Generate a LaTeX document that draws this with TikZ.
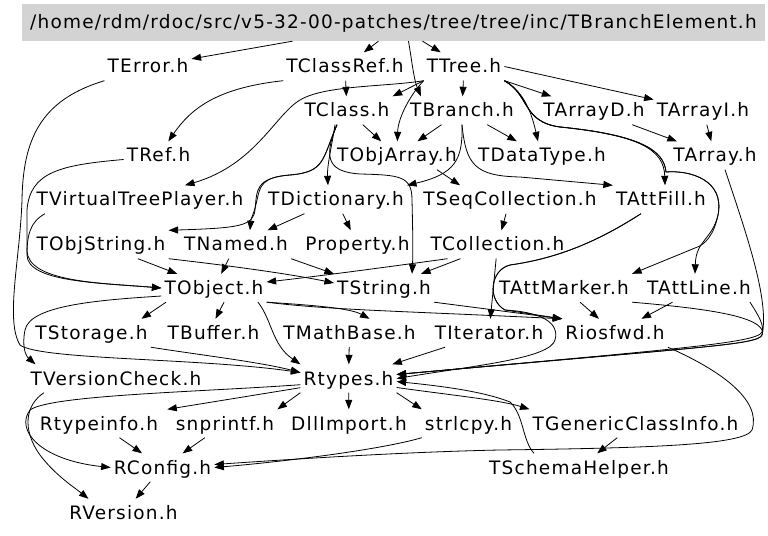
\documentclass[tikz,border=0pt]{standalone}
\usepackage{fontspec}
\setmainfont{DejaVu Sans}[LetterSpace=6.5]
\usepackage{xcolor}
\definecolor{rootgray}{HTML}{D3D3D3}
\usetikzlibrary{arrows.meta}

\begin{document}
\begin{tikzpicture}[
  x=1bp, y=-1bp,
  font=\fontsize{18.5bp}{20bp}\selectfont,
  incfile/.style={inner xsep=3bp, inner ysep=0pt, minimum height=28bp,
                  text height=15bp, text depth=2bp},
  topfile/.style={fill=rootgray, inner sep=0pt, minimum width=743bp, minimum height=37bp,
                  text height=15bp, text depth=2bp},
  inc/.style={-{Triangle[length=9.5bp,width=7bp]}, line width=0.8bp}
]
  \useasboundingbox (0,0) rectangle (768,536);

  \node[topfile] (root) at (393.5,22.5) {/home/rdm/rdoc/src/v5-32-00-patches/tree/tree/inc/TBranchElement.h};

  \node[incfile] (terror)     at (148,66.5)  {TError.h};
  \node[incfile] (tclassref)  at (345,66.5)  {TClassRef.h};
  \node[incfile] (ttree)      at (464,66.5)  {TTree.h};
  \node[incfile] (tclass)     at (347,110.5) {TClass.h};
  \node[incfile] (tbranch)    at (462,110.5) {TBranch.h};
  \node[incfile] (tarrayd)    at (594,110.5) {TArrayD.h};
  \node[incfile] (tarrayi)    at (703,110.5) {TArrayI.h};
  \node[incfile] (tref)       at (158.5,155.5) {TRef.h};
  \node[incfile] (tobjarray)  at (397,155.5) {TObjArray.h};
  \node[incfile] (tdatatype)  at (542,155.5) {TDataType.h};
  \node[incfile] (tarray)     at (715,155.5) {TArray.h};
  \node[incfile] (tvirtualtreeplayer) at (140,199.5) {TVirtualTreePlayer.h};
  \node[incfile] (tdictionary)    at (336,199.5) {TDictionary.h};
  \node[incfile] (tseqcollection) at (510,199.5) {TSeqCollection.h};
  \node[incfile] (tattfill)       at (661,199.5) {TAttFill.h};
  \node[incfile] (tobjstring)  at (101,244.5) {TObjString.h};
  \node[incfile] (tnamed)      at (236,244.5) {TNamed.h};
  \node[incfile] (property)    at (357.5,244.5) {Property.h};
  \node[incfile] (tcollection) at (497.5,244.5) {TCollection.h};
  \node[incfile] (tobject)     at (214,288) {TObject.h};
  \node[incfile] (tstring)     at (384,288) {TString.h};
  \node[incfile] (tattmarker)  at (564,288) {TAttMarker.h};
  \node[incfile] (tattline)    at (699,288) {TAttLine.h};
  \node[incfile] (tstorage)    at (91.5,333)  {TStorage.h};
  \node[incfile] (tbuffer)     at (213.5,333) {TBuffer.h};
  \node[incfile] (tmathbase)   at (349.5,333) {TMathBase.h};
  \node[incfile] (titerator)   at (489,333)   {TIterator.h};
  \node[incfile] (riosfwd)     at (615,333)   {Riosfwd.h};
  \node[incfile] (tversioncheck) at (116,378.5) {TVersionCheck.h};
  \node[incfile] (rtypes)        at (348.5,378.5) {Rtypes.h};
  \node[incfile] (rtypeinfo)   at (99,423.5)  {Rtypeinfo.h};
  \node[incfile] (snprintf)    at (225,423.5) {snprintf.h};
  \node[incfile] (dllimport)   at (349,423.5) {DllImport.h};
  \node[incfile] (strlcpy)     at (468.5,423.5) {strlcpy.h};
  \node[incfile] (tgenericclassinfo) at (635.5,423.5) {TGenericClassInfo.h};
  \node[incfile] (rconfig)       at (162.5,467.5) {RConfig.h};
  \node[incfile] (tschemahelper) at (579,467.5)   {TSchemaHelper.h};
  \node[incfile] (rversion)      at (123.5,513)   {RVersion.h};

  \draw[inc] ([xshift=-101bp]root.south) -- (terror);
  \draw[inc] ([xshift=-15bp]root.south) -- (tclassref);
  \draw[inc] ([xshift=29bp]root.south) -- (ttree);
  \draw[inc] ([xshift=15bp]root.south) .. controls (412,62) and (414,80) .. ([xshift=14bp]tbranch.north west);

  \draw[inc] (tclassref) -- (tclass);
  \draw[inc] (tclassref.south west) .. controls (215,88) and (190,110) .. (tref);
  \draw[inc] (ttree) -- (tbranch);
  \draw[inc] (ttree.south east) -- (tarrayd);
  \draw[inc] (ttree.east) -- (tarrayi);
  \draw[inc] (ttree.south east) .. controls (525,92) and (532,115) .. ([xshift=-4bp]tdatatype.north);
  \draw[inc] (ttree.south east) .. controls (530,95) and (522,122) .. (560,127)
             .. controls (640,135) and (664,150) .. ([xshift=4bp]tattfill.north);
  \draw[inc] (ttree.south east) .. controls (530,95) and (522,122) .. (560,127)
             .. controls (640,135) and (664,150) .. (666,172)
             .. controls (690,170) and (725,180) .. (718,215)
             .. controls (712,240) and (696,240) .. ([xshift=-4bp]tattline.north);
  \draw[inc] (ttree.south east) .. controls (530,95) and (522,122) .. (560,127)
             .. controls (640,135) and (664,150) .. (666,172)
             .. controls (690,170) and (725,180) .. (718,215)
             .. controls (714,235) and (705,245) .. (695,248) -- (tattmarker.north east);
  \draw[inc] (ttree.south west) -- (tclass.north east);
  \draw[inc] (ttree.south west) .. controls (410,95) and (398,118) .. (tobjarray);
  \draw[inc] (ttree.south west) .. controls (385,87) and (325,85) .. (300,100)
             .. controls (275,115) and (255,165) .. ([xshift=45bp]tvirtualtreeplayer.north);

  \draw[inc] (tclass) -- (tobjarray);
  \draw[inc] (tbranch) -- (tobjarray);
  \draw[inc] (tbranch) -- (tdatatype);
  \draw[inc] (tarrayd) -- (tarray);
  \draw[inc] (tarrayi) -- (tarray);
  \draw[inc] ([xshift=-12bp]tclass.south) .. controls (332,145) and (327,165) .. ([xshift=-8bp]tdictionary.north);
  \draw[inc] ([xshift=-10bp]tclass.south) .. controls (322,160) and (325,172) .. (290,175)
             .. controls (255,178) and (257,190) .. (255,210)
             .. controls (253,226) and (240,228) .. (tobjstring.north east);
  \draw[inc] ([xshift=-10bp]tclass.south) .. controls (322,160) and (325,172) .. (290,175)
             .. controls (262,177) and (260,186) .. (257,200)
             .. controls (254,214) and (251,218) .. ([xshift=14bp]tnamed.north);
  \draw[inc] ([xshift=-10bp]tclass.south) .. controls (322,160) and (330,172) .. (360,174)
             .. controls (400,175) and (412,176) .. (412,200)
             .. controls (413,240) and (413,255) .. ([xshift=28bp]tstring.north);
  \draw[inc] (tbranch.south) .. controls (463,160) and (455,174) .. (tdictionary.north east);
  \draw[inc] (tbranch.south) .. controls (466,165) and (475,176) .. (520,177) -- (tattfill.north west);
  \draw[inc] ([xshift=40bp]tobjarray.south) -- ([xshift=-50bp]tseqcollection.north);

  \draw[inc] (tdictionary) -- (tnamed);
  \draw[inc] (tdictionary) -- (property);
  \draw[inc] (tseqcollection) -- (tcollection);
  \draw[inc] (tobjstring) -- (tobject);
  \draw[inc] (tobjstring.south east) .. controls (250,268) and (300,276) .. ([yshift=5bp]tstring.west);
  \draw[inc] (tnamed) -- (tobject);
  \draw[inc] (tnamed.south east) -- (tstring.north west);
  \draw[inc] ([xshift=-50bp]tcollection.south) .. controls (380,268) and (320,276) .. ([yshift=6bp]tobject.east);
  \draw[inc] (tcollection) -- (tstring);
  \draw[inc] (tcollection) -- (titerator);
  \draw[inc] ([xshift=-20bp]tattfill.south) .. controls (600,240) and (560,258) .. (510,265)
             .. controls (490,270) and (487,300) .. (505,310) -- (riosfwd.north west);
  \draw[inc] ([xshift=-20bp]tattfill.south) .. controls (600,240) and (560,258) .. (510,265)
             .. controls (490,270) and (487,300) .. (505,310)
             .. controls (540,312) and (560,322) .. (555,340)
             .. controls (550,358) and (480,365) .. (rtypes.east);
  \draw[inc] (tref.west) ++(0,4) .. controls (60,165) and (30,172) .. (27,210) -- (27,250)
             .. controls (27,282) and (100,283) .. (tobject.west);
  \draw[inc] ([xshift=-95bp]tvirtualtreeplayer.south) .. controls (30,222) and (27,235) .. (27,255)
             .. controls (27,282) and (100,283) .. (tobject.west);

  \draw[inc] (tstring.south east) -- (riosfwd.north west);
  \draw[inc] (tobject.south east) .. controls (330,310) and (400,311) .. (riosfwd.north west);
  \draw[inc] (tobject.south east) .. controls (310,305) and (350,308) .. ([xshift=20bp]tmathbase.north);
  \draw[inc] ([xshift=-48bp]tobject.south) -- ([xshift=50bp]tstorage.north);
  \draw[inc] ([xshift=10bp]tobject.south) -- ([xshift=2bp]tbuffer.north);
  \draw[inc] ([xshift=44bp]tobject.south) .. controls (272,320) and (272,345) .. (rtypes.north west);
  \draw[inc] ([yshift=-8bp]tobject.west) .. controls (100,300) and (30,305) .. (25,330)
             .. controls (22,345) and (25,355) .. ([xshift=8bp]tversioncheck.north west);
  \draw[inc] (tstorage.south east) .. controls (200,355) and (260,362) .. ([yshift=6bp]rtypes.west);
  \draw[inc] (terror.south west) .. controls (40,100) and (23,140) .. (22,200)
             .. controls (20,260) and (5,320) .. (20,345)
             .. controls (40,360) and (200,358) .. ([yshift=6bp]rtypes.west);
  \draw[inc] (tmathbase) -- (rtypes);
  \draw[inc] (titerator) -- (rtypes);
  \draw[inc] (tattmarker) -- (riosfwd);
  \draw[inc] (tattline) -- (riosfwd);
  \draw[inc] (tattmarker.south east) .. controls (700,308) and (755,315) .. (762,330)
             .. controls (766,342) and (700,347) .. ([yshift=4bp]rtypes.east);
  \draw[inc] ([xshift=-4bp]tattline.south east) .. controls (758,315) and (765,325) .. (762,335)
             .. controls (758,345) and (700,347) .. ([yshift=4bp]rtypes.east);
  \draw[inc] ([xshift=10bp]tarray.south) .. controls (745,230) and (770,300) .. (762,335)
             .. controls (758,345) and (700,347) .. ([yshift=4bp]rtypes.east);

  \draw[inc] ([xshift=-45bp]tschemahelper.north) .. controls (522,440) and (524,415) .. (510,402)
             .. controls (480,390) and (430,385) .. ([yshift=-3bp]rtypes.east);
  \draw[inc] ([yshift=-9bp]rtypes.east) .. controls (450,395) and (500,400) .. (tgenericclassinfo.north west);
  \draw[inc] (tgenericclassinfo) -- (tschemahelper);
  \draw[inc] (riosfwd.south east) .. controls (720,370) and (762,400) .. (752,430)
             .. controls (745,445) and (650,448) .. (500,450)
             .. controls (400,452) and (280,460) .. ([yshift=3bp]rconfig.east);
  \draw[inc] (strlcpy.south west) .. controls (380,450) and (280,462) .. (rconfig.east);
  \draw[inc] ([yshift=5bp]rtypes.south west) -- ([xshift=6bp]rtypeinfo.north east);
  \draw[inc] (rtypes.south west) -- (snprintf.north east);
  \draw[inc] (rtypes) -- (dllimport);
  \draw[inc] (rtypes.south east) -- (strlcpy.north west);
  \draw[inc] ([yshift=8bp]rtypes.south west) .. controls (200,392) and (50,395) .. (30,410)
             .. controls (15,430) and (40,460) .. (rconfig.west);
  \draw[inc] ([xshift=-72bp]tversioncheck.south) .. controls (25,405) and (22,430) .. (40,455)
             .. controls (55,475) and (75,488) .. ([xshift=-35bp]rversion.north);
  \draw[inc] (rtypeinfo) -- (rconfig);
  \draw[inc] (snprintf) -- (rconfig);
  \draw[inc] (rconfig) -- (rversion);
\end{tikzpicture}
\end{document}
